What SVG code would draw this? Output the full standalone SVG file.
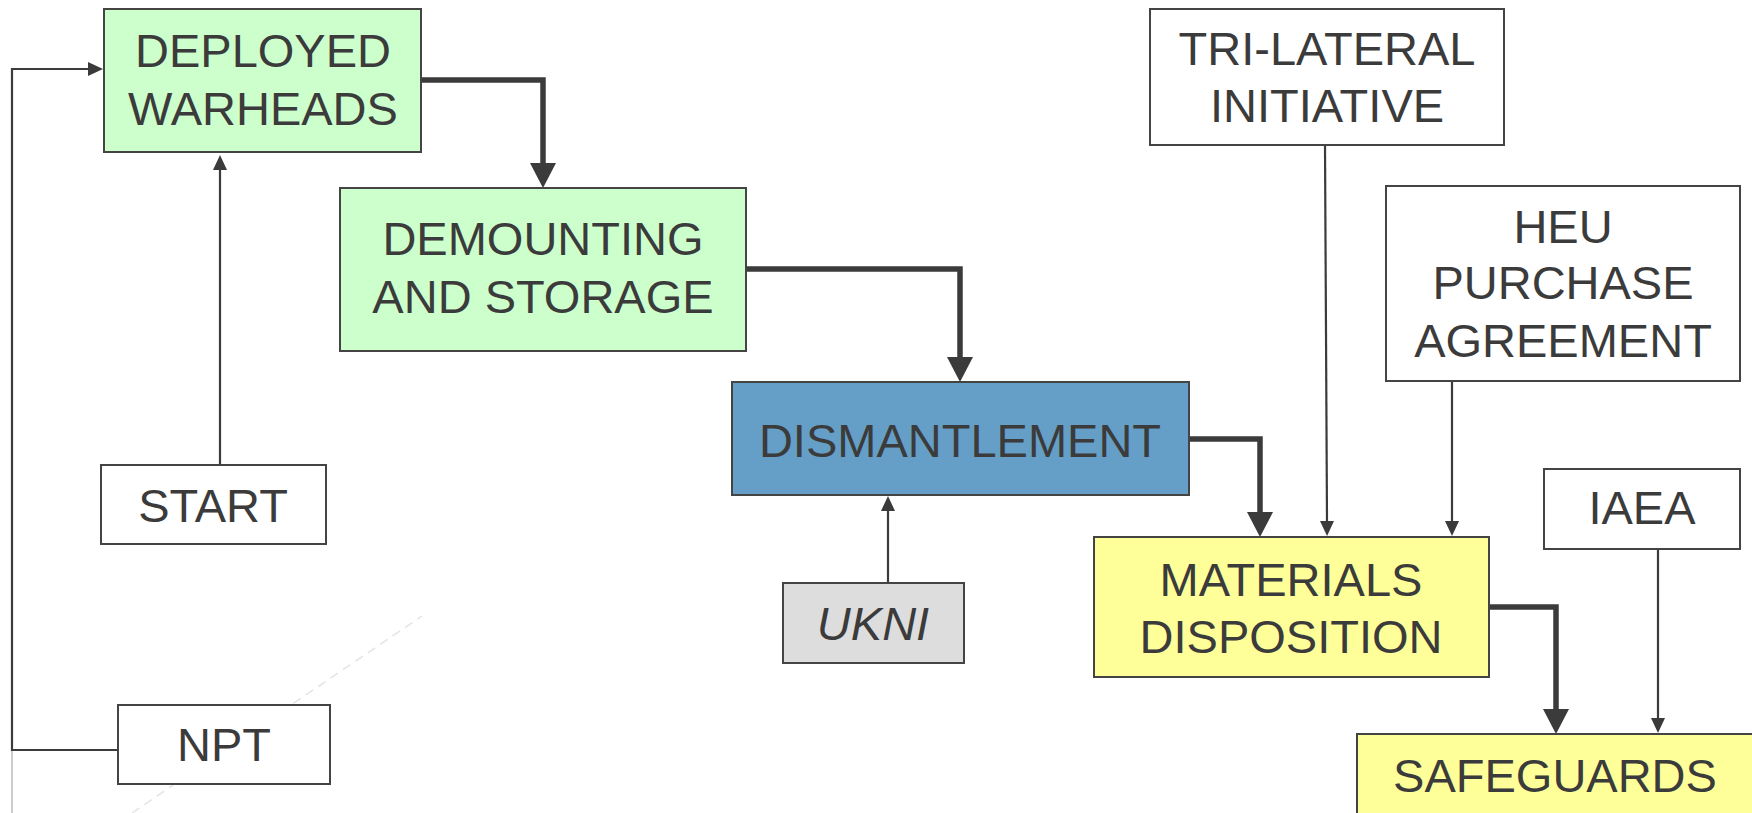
<svg xmlns="http://www.w3.org/2000/svg" width="1752" height="813" viewBox="0 0 1752 813">
<style>
.box{stroke:#444;stroke-width:2}
.w{fill:#fff}.g{fill:#ccffcc}.b{fill:#659fc7}.y{fill:#ffff99}.k{fill:#dddddd}
text{font-family:"Liberation Sans",Arial,sans-serif;font-size:47px;fill:#3b3b3b;text-anchor:middle}
.thick{fill:none;stroke:#3b3b3b;stroke-width:5.5}
.thin{fill:none;stroke:#3b3b3b;stroke-width:2.2}
</style>
<defs>
<marker id="ah" markerUnits="userSpaceOnUse" viewBox="0 0 26 26" refX="1" refY="13" markerWidth="26" markerHeight="26" orient="auto"><path d="M0,0 L25,13 L0,26 z" fill="#3b3b3b"/></marker>
<marker id="as" markerUnits="userSpaceOnUse" viewBox="0 0 16 14" refX="1" refY="7" markerWidth="16" markerHeight="14" orient="auto"><path d="M0,0 L15,7 L0,14 z" fill="#3b3b3b"/></marker>
</defs>
<line x1="132" y1="813" x2="422" y2="616" stroke="#e4e4e4" stroke-width="1.5" stroke-dasharray="9 6"/>
<line x1="12" y1="750" x2="12" y2="813" stroke="#bbb" stroke-width="1.5"/>
<g id="connectors">
<path class="thick" d="M422,80 H543 V164" marker-end="url(#ah)"/>
<path class="thick" d="M746,269 H960 V358" marker-end="url(#ah)"/>
<path class="thick" d="M1189,439 H1260 V513" marker-end="url(#ah)"/>
<path class="thick" d="M1489,607 H1556 V710" marker-end="url(#ah)"/>
<path class="thin" d="M118,750 H12 V69 H89" marker-end="url(#as)"/>
<path class="thin" d="M220,465 V169" marker-end="url(#as)"/>
<path class="thin" d="M888,583 V510" marker-end="url(#as)"/>
<path class="thin" d="M1325,145 L1327,522" marker-end="url(#as)"/>
<path class="thin" d="M1452,381 V522" marker-end="url(#as)"/>
<path class="thin" d="M1658,549 V719" marker-end="url(#as)"/>
</g>
<g id="deployed"><rect class="box g" x="104" y="9" width="317" height="143"/><text x="263" y="67">DEPLOYED</text><text x="263" y="125">WARHEADS</text></g>
<g id="demounting"><rect class="box g" x="340" y="188" width="406" height="163"/><text x="543" y="255">DEMOUNTING</text><text x="543" y="313">AND STORAGE</text></g>
<g id="dismantlement"><rect class="box b" x="732" y="382" width="457" height="113"/><text x="960" y="457">DISMANTLEMENT</text></g>
<g id="start"><rect class="box w" x="101" y="465" width="225" height="79"/><text x="213" y="522">START</text></g>
<g id="npt"><rect class="box w" x="118" y="705" width="212" height="79"/><text x="224" y="761">NPT</text></g>
<g id="ukni"><rect class="box k" x="783" y="583" width="181" height="80"/><text x="873" y="640" font-style="italic">UKNI</text></g>
<g id="trilateral"><rect class="box w" x="1150" y="9" width="354" height="136"/><text x="1327" y="65">TRI-LATERAL</text><text x="1327" y="122">INITIATIVE</text></g>
<g id="heu"><rect class="box w" x="1386" y="186" width="354" height="195"/><text x="1563" y="243">HEU</text><text x="1563" y="299">PURCHASE</text><text x="1563" y="357">AGREEMENT</text></g>
<g id="materials"><rect class="box y" x="1094" y="537" width="395" height="140"/><text x="1291" y="596">MATERIALS</text><text x="1291" y="653">DISPOSITION</text></g>
<g id="iaea"><rect class="box w" x="1544" y="469" width="196" height="80"/><text x="1642" y="524">IAEA</text></g>
<g id="safeguards"><rect class="box y" x="1357" y="734" width="400" height="90"/><text x="1555" y="792">SAFEGUARDS</text></g>
</svg>
